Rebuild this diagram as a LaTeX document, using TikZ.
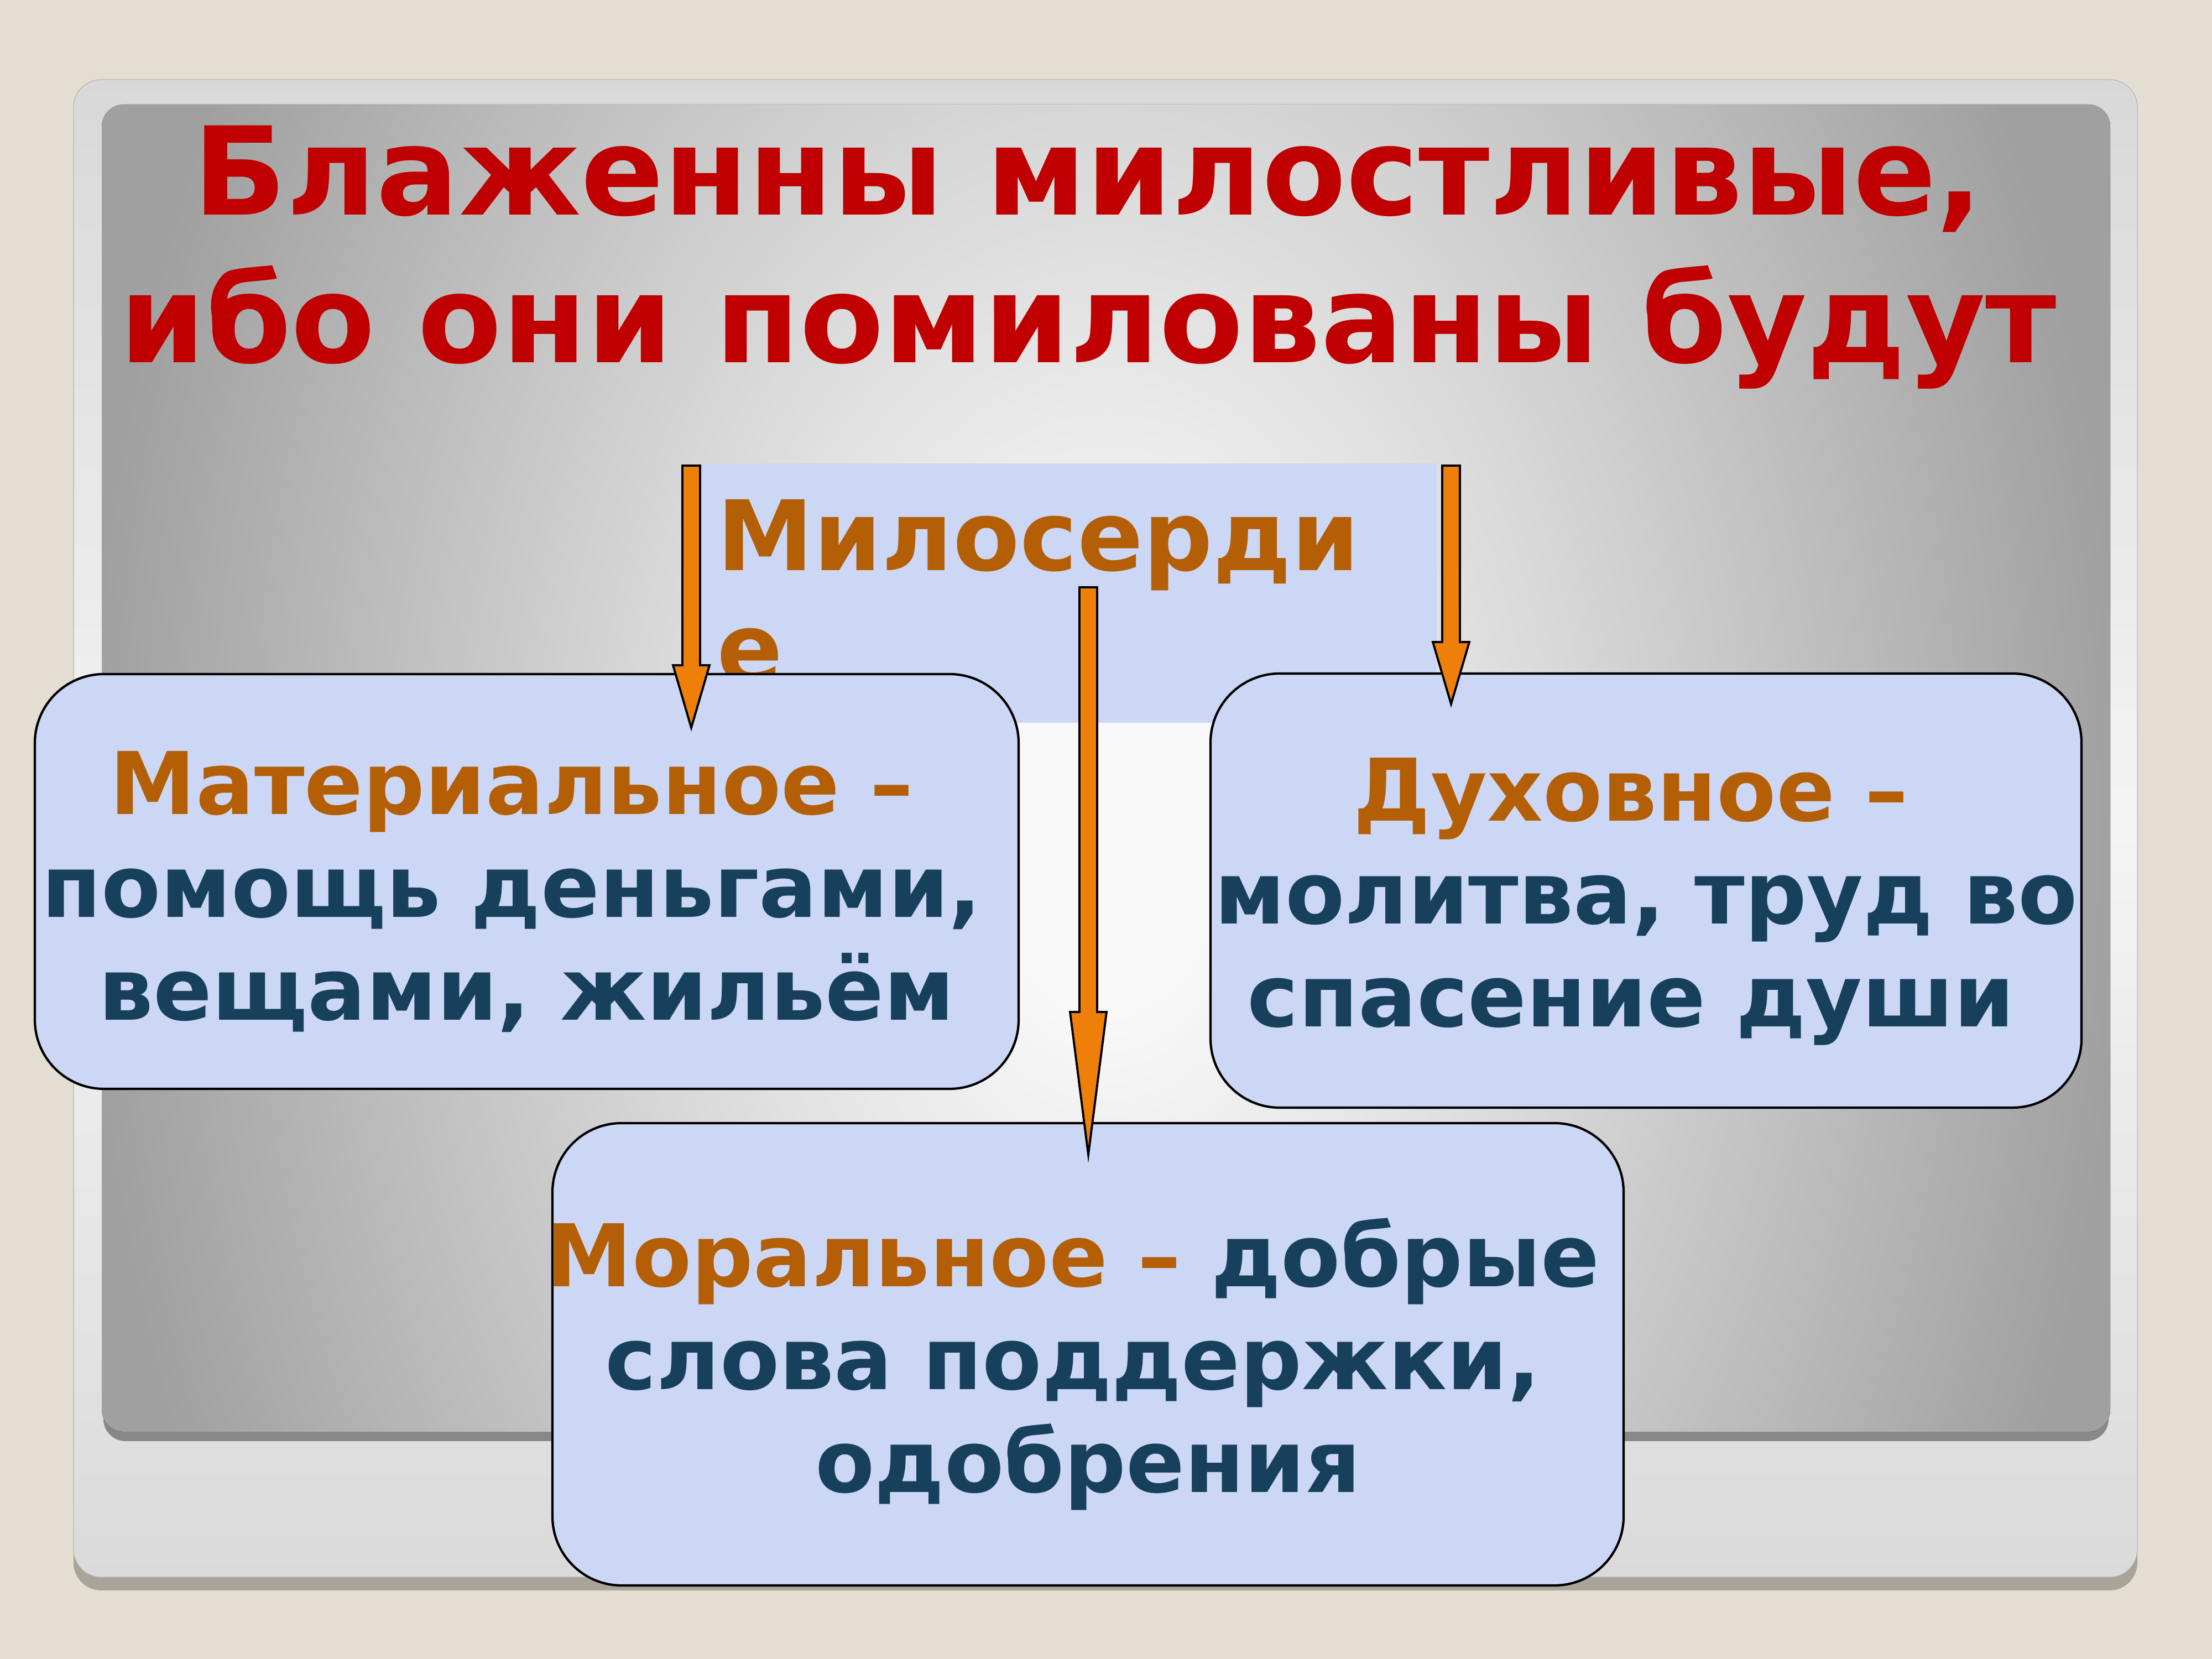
\documentclass[tikz,border=0pt]{standalone}
\usepackage{fontspec}
\setmainfont{DejaVu Sans}
\usetikzlibrary{calc}

\definecolor{slidebg}{HTML}{E4DED2}
\definecolor{frameshadow}{HTML}{A8A598}
\definecolor{frameline}{HTML}{B0B0B0}
\definecolor{frametop}{HTML}{D8D8D8}
\definecolor{framemid}{HTML}{F4F4F4}
\definecolor{framebot}{HTML}{DADADA}
\definecolor{panelgray}{HTML}{A0A0A0}
\definecolor{panelmid}{HTML}{D4D4D4}
\definecolor{panellight}{HTML}{F8F8F8}
\definecolor{panelshadow}{HTML}{888888}
\definecolor{titlered}{HTML}{C00000}
\definecolor{headbrown}{HTML}{B45F06}
\definecolor{textblue}{HTML}{17405C}
\definecolor{arroworange}{HTML}{EE800A}
\definecolor{paperblue}{HTML}{CCD7F5}

\pgfdeclareradialshading{panelglow}{\pgfpoint{0bp}{0bp}}{color(0bp)=(panellight); color(3bp)=(panellight); color(12.5bp)=(panelmid); color(25bp)=(panelgray); color(50bp)=(panelgray)}

\tikzset{
  titletext/.style={anchor=base, inner sep=0pt, text=titlered, font=\fontsize{63}{76}\selectfont\bfseries},
  card/.style={draw=black, line width=1.2pt, fill=paperblue, rounded corners=12.5mm},
  cardtext/.style={anchor=base, inner sep=0pt, align=center, text=textblue, font=\fontsize{44.5}{53}\selectfont\bfseries},
  blockarrow/.style={draw=black, line width=1.1pt, fill=arroworange, line join=miter}
}
\newcommand{\hd}[1]{\textcolor{headbrown}{#1}}
\newcommand{\trail}{\rule{0.348em}{0pt}}
% vertical block arrow: start, tip, head length
\newcommand{\blockarrow}[3]{%
  \draw[blockarrow] let \p1=(#1), \p2=(#2) in
    (\x1-1.6mm,\y1) -- (\x1+1.6mm,\y1) -- (\x1+1.6mm,\y2+#3) -- (\x1+3.3mm,\y2+#3)
    -- (\x2,\y2) -- (\x1-3.3mm,\y2+#3) -- (\x1-1.6mm,\y2+#3) -- cycle;}

\begin{document}
\begin{tikzpicture}
% --- SLIDE ---
  \fill[slidebg] (0,0) rectangle (40,30);

  % frame
  \fill[frameshadow, rounded corners=5mm] (1.33,1.24) rectangle (38.65,28.0);
  \shade[top color=frametop, bottom color=framebot, middle color=framemid, draw=frameline, line width=0.3pt, rounded corners=5mm] (1.33,1.48) rectangle (38.65,28.56);

  % panel
  \fill[panelshadow, rounded corners=4mm] (1.87,3.94) rectangle (38.13,27.5);
  \begin{scope}
    \clip[rounded corners=4mm] (1.84,4.11) rectangle (38.16,28.11);
    \fill[shading=panelglow] (1.6,-12.5) rectangle (38.4,42.5);
  \end{scope}

% --- TITLE ---
  \node[titletext] (title1) at (19.68,26.11) {Блаженны милостливые,};
  \node[titletext] (title2) at (19.68,23.44) {ибо они помилованы будут};

% --- MERCY ---
  \node[fill=paperblue, inner sep=0pt, minimum width=13.32cm, minimum height=4.69cm, anchor=north west] (mil) at (12.65,21.63) {};
  \node[anchor=base west, inner sep=0pt, align=left, text=headbrown, font=\fontsize{50}{58}\selectfont\bfseries] (milText) at (12.96,17.65) {Милосерди\\е};

  % cards
  \node[card, minimum width=17.79cm, minimum height=7.50cm] (mat) at (9.525,14.06) {};
  \node[card, minimum width=15.75cm, minimum height=7.85cm] (dukh) at (29.765,13.895) {};
  \node[card, minimum width=19.37cm, minimum height=8.36cm] (moral) at (19.675,5.51) {};

  \node[cardtext] (matText) at (9.525,11.55) {\hd{Материальное –}\trail\\помощь деньгами,\trail\\вещами, жильём};
  \node[cardtext] (dukhText) at (29.765,11.43) {\hd{Духовное –}\trail\\молитва, труд во\\спасение души\trail};
  \node[cardtext] (moralText) at (19.675,3.01) {\hd{Моральное –} добрые\trail\\слова поддержки,\trail\\одобрения};

  % arrows
  \coordinate (leftTop) at (12.50,21.58);
  \coordinate (leftTip) at (12.50,16.84);
  \coordinate (midTop) at (19.68,19.38);
  \coordinate (midTip) at (19.68,9.12);
  \coordinate (rightTop) at (26.24,21.58);
  \coordinate (rightTip) at (26.24,17.27);
  \blockarrow{leftTop}{leftTip}{1.13cm}
  \blockarrow{midTop}{midTip}{2.58cm}
  \blockarrow{rightTop}{rightTip}{1.12cm}
\end{tikzpicture}
\end{document}
